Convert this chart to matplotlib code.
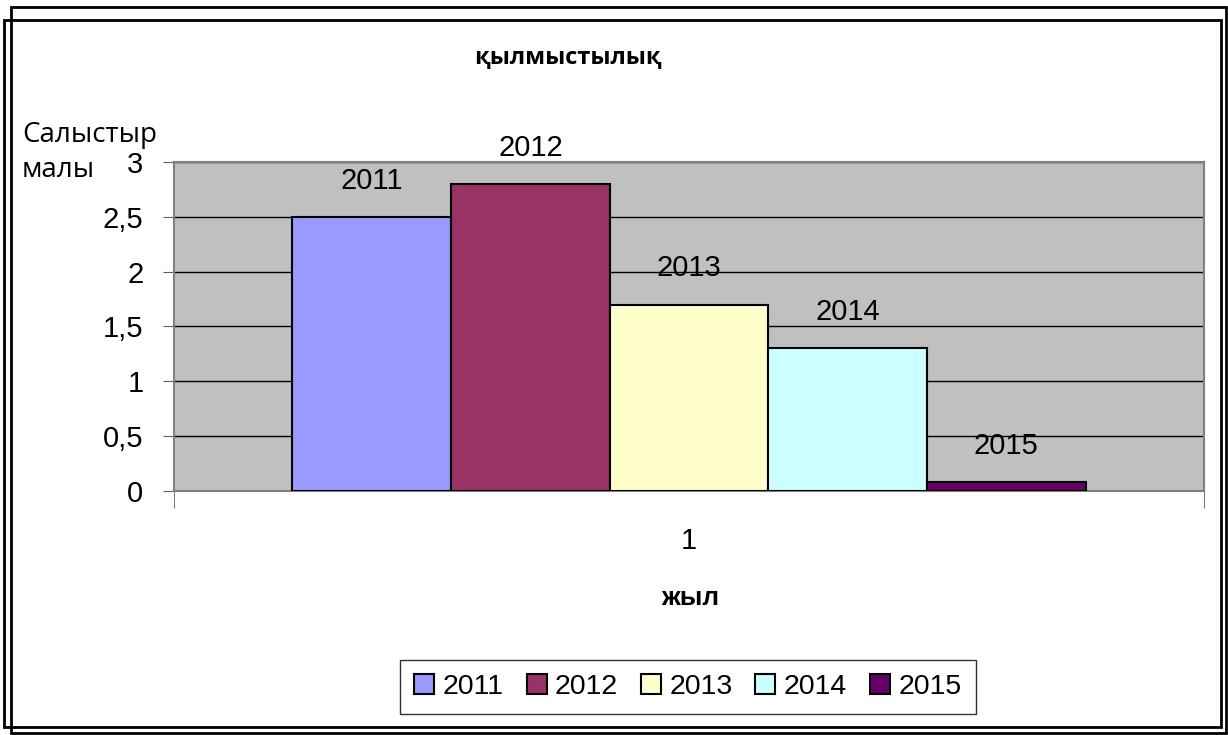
import matplotlib
matplotlib.use("Agg")
import matplotlib.pyplot as plt
from matplotlib.ticker import FuncFormatter, FixedLocator
from matplotlib.patches import Rectangle

# data
years = ["2011", "2012", "2013", "2014", "2015"]
values = [2.5, 2.8, 1.7, 1.3, 0.08]
colors = ["#9999FF", "#993366", "#FFFFCC", "#CCFFFF", "#660066"]
category = ["1"]
yticks = [0, 0.5, 1, 1.5, 2, 2.5, 3]

plt.rcParams["font.family"] = ["Liberation Sans", "DejaVu Sans"]
cal = ["Open Sans", "DejaVu Sans"]

fig = plt.figure(figsize=(12.28, 7.35), dpi=100, facecolor="white")
ax = fig.add_axes([0.1417, 0.332, 0.8388, 0.4476])
ax.set_facecolor("#C0C0C0")

# outer double frame
fig.patches.append(Rectangle((11 / 1228, 1 - 733 / 735), 1215 / 1228, 726 / 735,
                             transform=fig.transFigure, fill=False, ec="black", lw=2))
fig.patches.append(Rectangle((4 / 1228, 1 - 727 / 735), 1217 / 1228, 707 / 735,
                             transform=fig.transFigure, fill=False, ec="black", lw=2))

bw = 0.154
n = len(years)
for i, (yr, v, c) in enumerate(zip(years, values, colors)):
    x = (i - (n - 1) / 2) * bw
    ax.bar(x, v, width=bw, color=c, edgecolor="black", linewidth=1.5, label=yr, zorder=3)
    ax.annotate(yr, (x, v), xytext=(0, 26), textcoords="offset points",
                ha="center", va="center", fontsize=21)

ax.set_xlim(-0.5, 0.5)
ax.set_ylim(0, 3)
ax.yaxis.set_major_locator(FixedLocator(yticks))
ax.yaxis.set_major_formatter(FuncFormatter(lambda v, p: f"{v:g}".replace(".", ",")))
ax.yaxis.grid(True, color="black", lw=1, zorder=1)
ax.tick_params(axis="y", labelsize=21, length=8, color="#606060", pad=14)

ax.set_xticks([0])
ax.set_xticklabels(category)
ax.tick_params(axis="x", which="major", length=0, labelsize=21, pad=26)
ax.set_xticks([-0.5, 0.5], minor=True)
ax.tick_params(axis="x", which="minor", length=12, color="#606060")

for s in ax.spines.values():
    s.set_color("#808080")
    s.set_linewidth(1.5)

fig.text(568 / 1228, 1 - 58 / 735, "қылмыстылық", ha="center", va="center",
         fontsize=17, fontweight="bold", family=cal)
fig.text(690 / 1228, 1 - 598 / 735, "жыл", ha="center", va="center",
         fontsize=19, fontweight="bold")
fig.text(22 / 1228, 1 - 135 / 735, "Салыстыр", ha="left", va="center",
         fontsize=20, family=cal)
fig.text(22 / 1228, 1 - 170 / 735, "малы", ha="left", va="center",
         fontsize=20, family=cal)

leg = fig.legend(loc="center", bbox_to_anchor=(688 / 1228, 1 - 687 / 735), ncol=5,
                 fontsize=20.5, frameon=True, fancybox=False, edgecolor="black",
                 handlelength=0.7, handleheight=0.7, handletextpad=0.3,
                 columnspacing=0.8, borderpad=0.5)
leg.get_frame().set_linewidth(1)

fig.savefig("out.png", dpi=100, facecolor="white")
